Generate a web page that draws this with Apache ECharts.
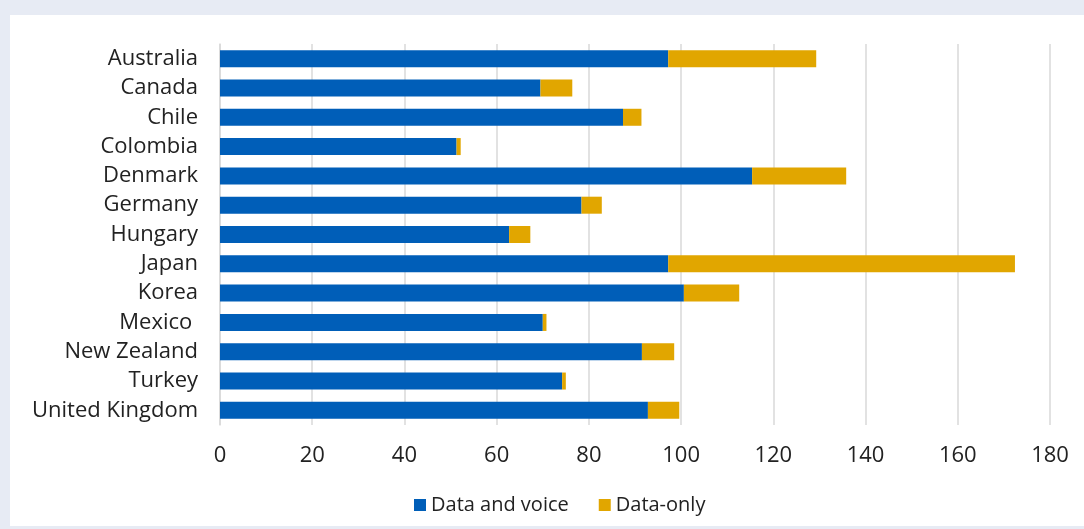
<!DOCTYPE html>
<html>
<head>
<meta charset="utf-8">
<script src="https://cdn.jsdelivr.net/npm/echarts@6/dist/echarts.min.js"></script>
<style>
html,body{margin:0;padding:0;background:#e7ebf4;width:1084px;height:529px;overflow:hidden;}
#chart{position:absolute;left:10px;top:15px;width:1074px;height:511px;background:#fff;}
</style>
</head>
<body>
<div id="chart"></div>
<script>
const categories = ["Australia","Canada","Chile","Colombia","Denmark","Germany","Hungary","Japan","Korea","Mexico ","New Zealand","Turkey","United Kingdom"];
const dataAndVoice = [97.2,69.5,87.4,51.3,115.4,78.4,62.7,97.2,100.6,70.0,91.5,74.2,92.8];
const dataOnly = [32.1,6.9,4.0,0.9,20.4,4.4,4.6,75.2,12.0,0.8,7.0,0.8,6.8];
const xTicks = {min:0,max:180,interval:20};

const chart = echarts.init(document.getElementById('chart'));
const font = "'Open Sans', sans-serif";
chart.setOption({
  animation:false,
  textStyle:{fontFamily:font},
  grid:{left:210,right:34,top:29,height:381,containLabel:false},
  legend:{
    bottom:6,left:399,
    icon:'rect',itemWidth:12,itemHeight:12,itemGap:30,
    textStyle:{fontSize:20,color:'#222',fontFamily:font},
    data:['Data and voice','Data-only']
  },
  xAxis:{
    type:'value',min:xTicks.min,max:xTicks.max,interval:xTicks.interval,
    axisLine:{show:false},axisTick:{show:false},
    axisLabel:{fontSize:22,color:'#222',margin:20,fontFamily:font},
    splitLine:{lineStyle:{color:'#d9d9d9',width:1.5}}
  },
  yAxis:{
    type:'category',data:categories,inverse:true,
    axisLine:{lineStyle:{color:'#d9d9d9',width:1.5}},
    axisTick:{show:false},
    axisLabel:{fontSize:22,color:'#222',margin:22,fontFamily:font}
  },
  series:[
    {name:'Data and voice',type:'bar',stack:'t',data:dataAndVoice,barWidth:17,itemStyle:{color:'#005eb8'}},
    {name:'Data-only',type:'bar',stack:'t',data:dataOnly,barWidth:17,itemStyle:{color:'#e1a600'}}
  ]
});
</script>
</body>
</html>
